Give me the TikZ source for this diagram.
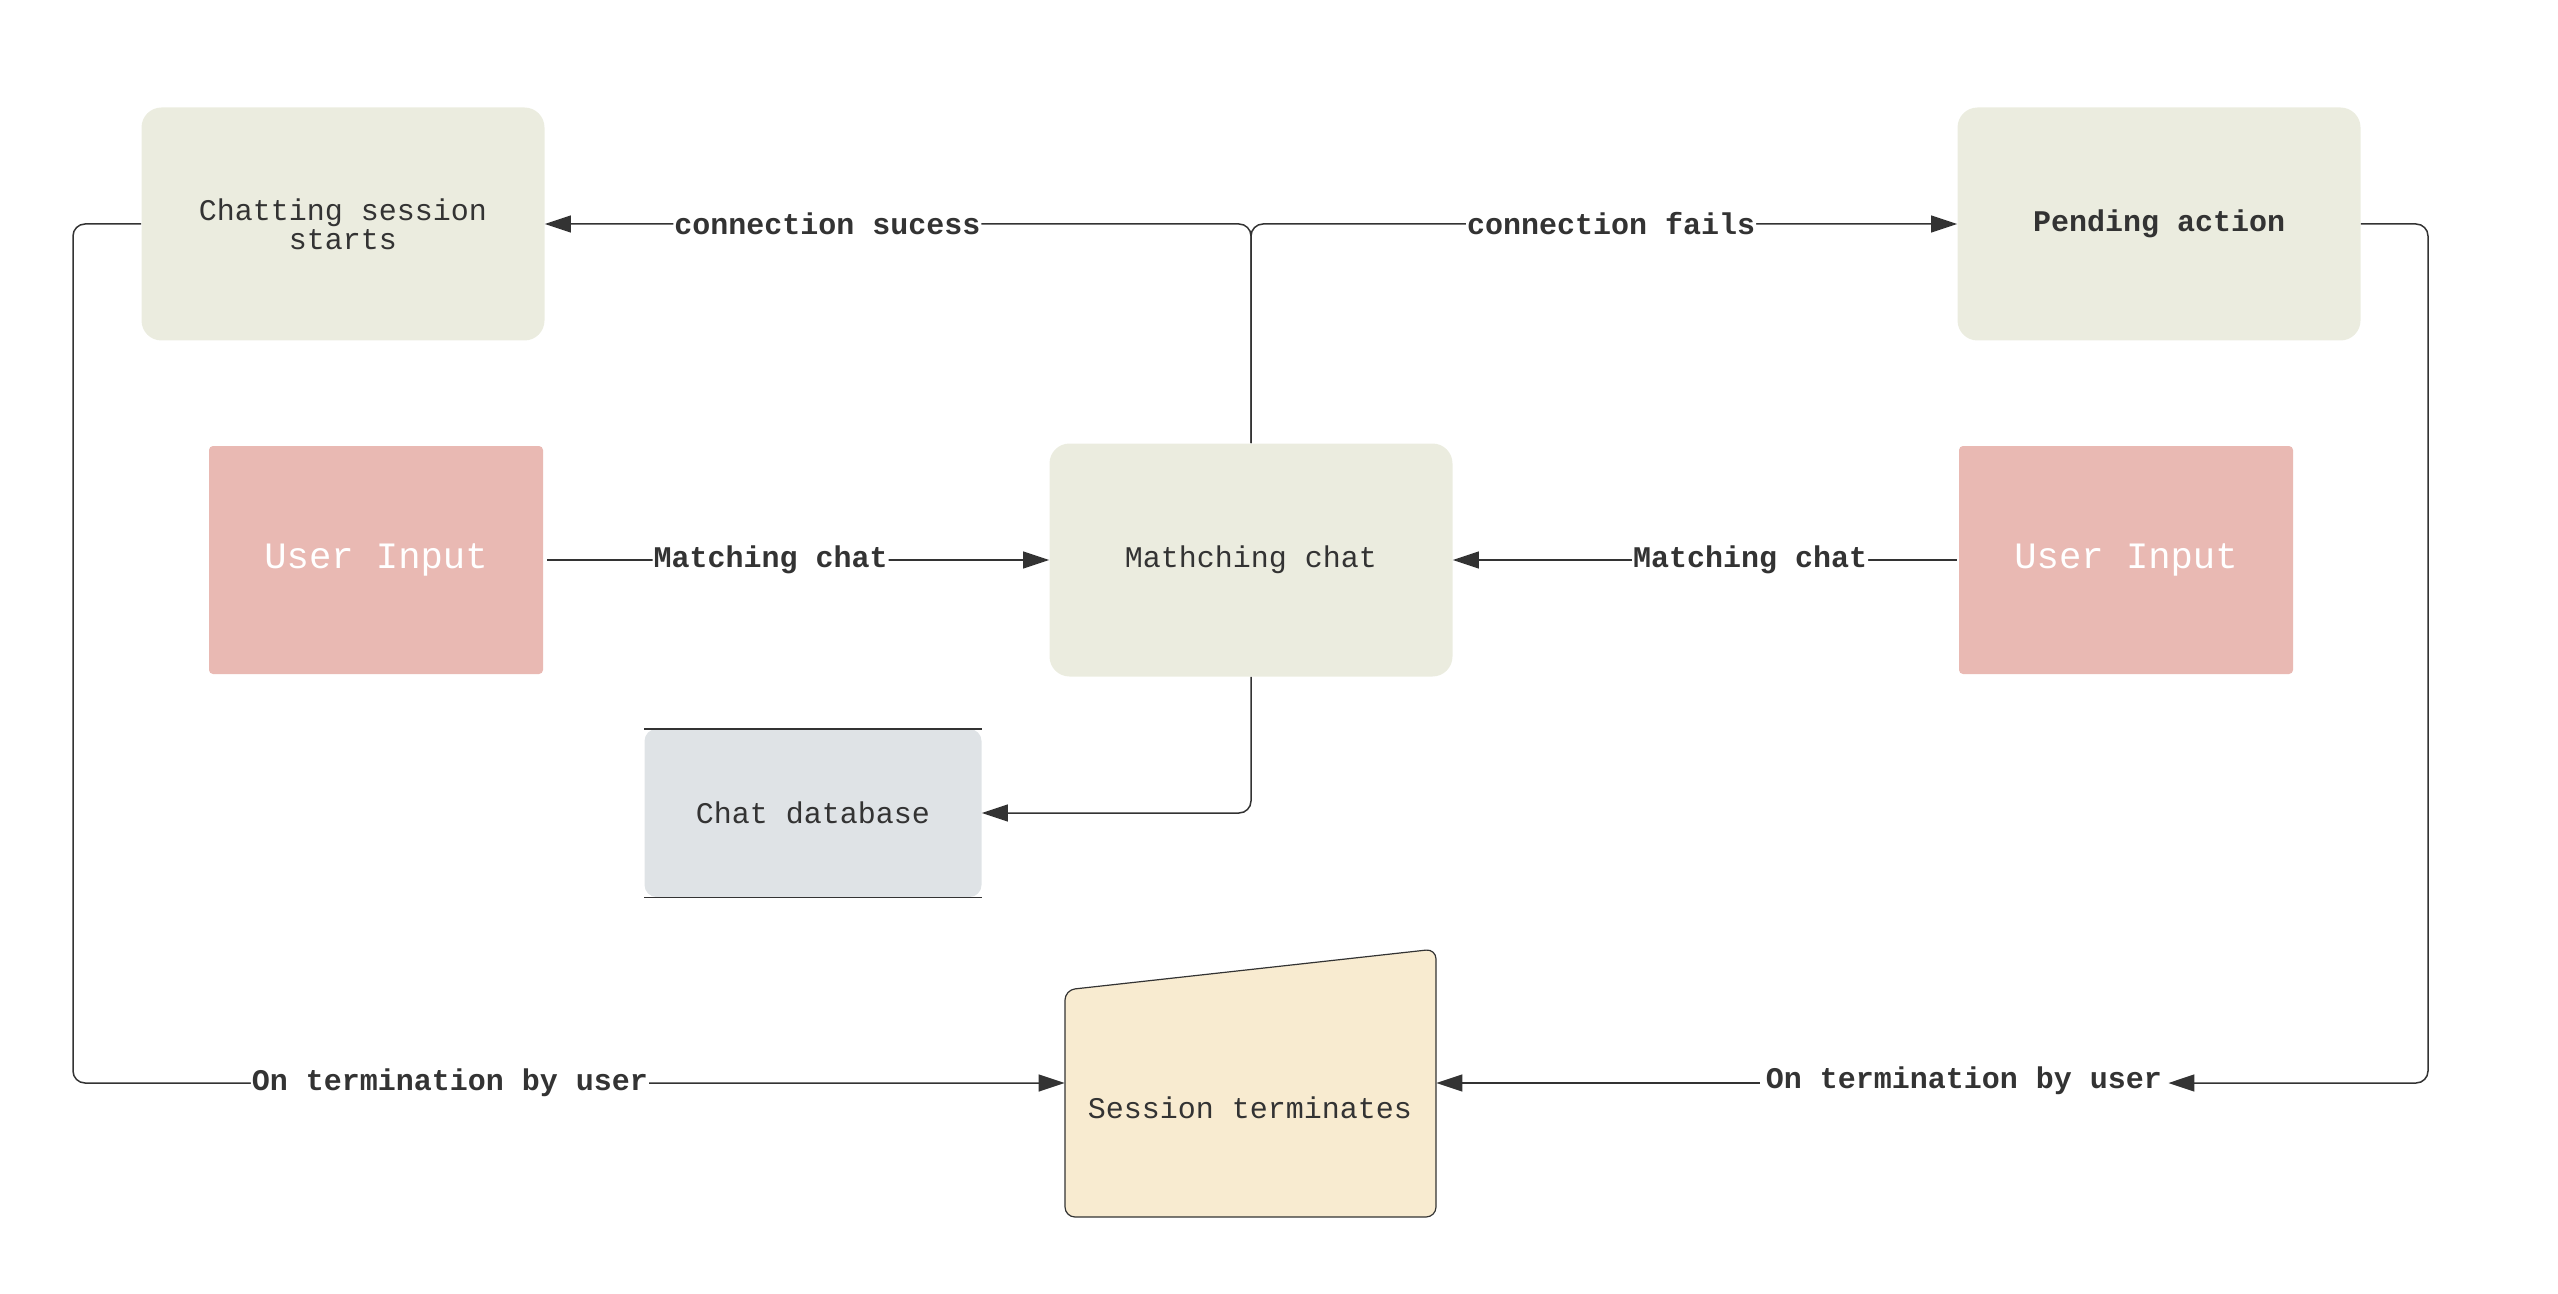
\documentclass[tikz,border=0pt]{standalone}
\usepackage{fontspec}
\setmonofont{Liberation Mono}
\usetikzlibrary{arrows.meta}
\definecolor{ink}{HTML}{333333}
\definecolor{sage}{HTML}{EBECDF}
\definecolor{rose}{HTML}{E9B9B3}
\definecolor{mist}{HTML}{DFE3E6}
\definecolor{cream}{HTML}{F8EBD0}
\begin{document}
\begin{tikzpicture}[x=0.5pt,y=-0.5pt,
 proc/.style={fill=sage, rounded corners=10pt, minimum width=201.5pt, minimum height=116.5pt, text=ink, font=\ttfamily\fontsize{15}{14.7}\selectfont, align=center, inner sep=0pt},
 uin/.style={fill=rose, rounded corners=2pt, minimum width=167pt, minimum height=114pt, text=white, font=\ttfamily\fontsize{18.6}{20}\selectfont, inner sep=0pt},
 lbl/.style={fill=white, text=ink, font=\ttfamily\bfseries\fontsize{15}{15}\selectfont, inner xsep=0.5pt, inner ysep=1pt},
 conn/.style={draw=ink, line width=0.75pt, rounded corners=6pt, -{Triangle[length=13pt,width=8.5pt]}},
]
\useasboundingbox (0,0) rectangle (2558,1294);

% nodes
\node[proc] (chat) at (343,224) {Chatting session\\starts};
\node[proc, font=\ttfamily\bfseries\fontsize{15}{14.7}\selectfont] (pend) at (2159,224) {Pending action};
\node[uin] (ui1) at (376,560) {User Input};
\node[proc] (match) at (1251,560) {Mathching chat};
\node[uin] (ui2) at (2126,560) {User Input};
\node[fill=mist, rounded corners=6pt, minimum width=168.5pt, minimum height=84pt, inner sep=0pt, text=ink, font=\ttfamily\fontsize{15}{15}\selectfont] (db) at (813,813) {Chat database};
\draw[ink, line width=0.9pt] (db.north west) -- (db.north east) (db.south west) -- (db.south east);

\filldraw[fill=cream, draw=ink, line width=0.6pt, rounded corners=5pt] (1065,990) -- (1436,949) -- (1436,1217) -- (1065,1217) -- cycle;
\node[minimum width=185.5pt, minimum height=134pt, inner sep=0pt] (sess) at (1250.5,1083) {};
\node[text=ink, font=\ttfamily\fontsize{15}{15}\selectfont] (sesstext) at (1250,1108) {Session terminates};

% connectors
\coordinate (top) at (1251,224);
\draw[conn] (match.north) -- (top) -- node[lbl, pos=0.6] {connection sucess} (chat.east);
\draw[conn] (match.north) -- (top) -- node[lbl, pos=0.51] {connection fails} (pend.west);
\draw[conn] ([xshift=2pt]ui1.east) -- node[lbl, pos=0.445] {Matching chat} (match.west);
\draw[conn] ([xshift=-1pt]ui2.west) -- node[lbl, pos=0.41] {Matching chat} (match.east);
\draw[conn] (match.south) |- (db.east);

\coordinate (lcorner) at (73,1083);
\draw[conn] (chat.west) -| (lcorner) -- node[lbl, pos=0.38] {On termination by user} (sess.west);

\coordinate (rcorner) at (2428,1083);
\node[lbl, inner xsep=3pt] (lbl2) at (1964,1081) {On termination by user};
\draw[conn] (pend.east) -| (rcorner) -- (rcorner -| lbl2.east);
\draw[conn] (lbl2.west |- sess.east) -- (sess.east);
\end{tikzpicture}
\end{document}
